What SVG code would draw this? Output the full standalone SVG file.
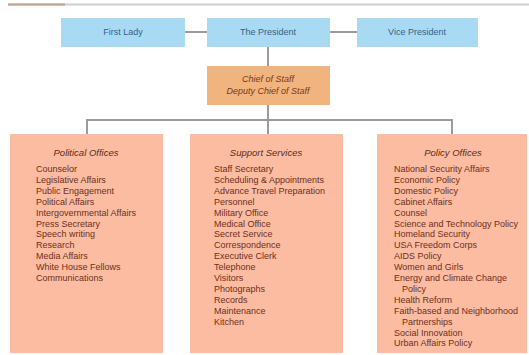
<svg xmlns="http://www.w3.org/2000/svg" width="529" height="355" viewBox="0 0 529 355">
<style>
.blue{fill:#a8daf3}
.chief{fill:#f1b47f}
.unit{fill:#fbbca2}
.bt{font-family:"Liberation Sans",Arial,sans-serif;font-size:9px;fill:#3b5f86;text-anchor:middle}
.ct{font-family:"Liberation Sans",Arial,sans-serif;font-size:9px;font-style:italic;fill:#7a3a14;text-anchor:middle}
.ttl{font-family:"Liberation Sans",Arial,sans-serif;font-size:9.5px;font-style:italic;fill:#5e2a14;text-anchor:middle}
.it{font-family:"Liberation Sans",Arial,sans-serif;font-size:9px;fill:#6e2f1a}
.conn{stroke:#9b9b9b;stroke-width:2;fill:none}
</style>
<rect width="529" height="355" fill="#ffffff"/>
<g id="rule">
<line x1="8" y1="4.5" x2="529" y2="4.5" stroke="#cfcfcf" stroke-width="2"/>
<line x1="8" y1="4.5" x2="65" y2="4.5" stroke="#c4a08f" stroke-width="2"/>
</g>
<g id="connectors">
<line class="conn" x1="185" y1="32" x2="207" y2="32"/>
<line class="conn" x1="330" y1="32" x2="357" y2="32"/>
<line class="conn" x1="268" y1="47" x2="268" y2="66"/>
<line class="conn" x1="268" y1="105" x2="268" y2="134"/>
<polyline class="conn" points="87,134 87,120 452,120 452,134"/>
</g>
<g id="first-lady">
<rect class="blue" x="61" y="18" width="124" height="29"/>
<text class="bt" x="123" y="35">First Lady</text>
</g>
<g id="president">
<rect class="blue" x="207" y="18" width="123" height="29"/>
<text class="bt" x="268" y="35">The President</text>
</g>
<g id="vice-president">
<rect class="blue" x="357" y="18" width="121" height="29"/>
<text class="bt" x="417" y="35">Vice President</text>
</g>
<g id="chief-of-staff">
<rect class="chief" x="207" y="66" width="123" height="39"/>
<text class="ct" x="268" y="82">Chief of Staff</text>
<text class="ct" x="268" y="94">Deputy Chief of Staff</text>
</g>
<g id="political-offices">
<rect class="unit" x="10" y="134" width="153" height="219"/>
<text class="ttl" x="86" y="156">Political Offices</text>
<text class="it" x="36" y="172">Counselor</text>
<text class="it" x="36" y="182.9">Legislative Affairs</text>
<text class="it" x="36" y="193.8">Public Engagement</text>
<text class="it" x="36" y="204.7">Political Affairs</text>
<text class="it" x="36" y="215.6">Intergovernmental Affairs</text>
<text class="it" x="36" y="226.5">Press Secretary</text>
<text class="it" x="36" y="237.4">Speech writing</text>
<text class="it" x="36" y="248.3">Research</text>
<text class="it" x="36" y="259.2">Media Affairs</text>
<text class="it" x="36" y="270.1">White House Fellows</text>
<text class="it" x="36" y="281">Communications</text>
</g>
<g id="support-services">
<rect class="unit" x="190" y="134" width="153" height="219"/>
<text class="ttl" x="266" y="156">Support Services</text>
<text class="it" x="214" y="172">Staff Secretary</text>
<text class="it" x="214" y="182.9">Scheduling &amp; Appointments</text>
<text class="it" x="214" y="193.8">Advance Travel Preparation</text>
<text class="it" x="214" y="204.7">Personnel</text>
<text class="it" x="214" y="215.6">Military Office</text>
<text class="it" x="214" y="226.5">Medical Office</text>
<text class="it" x="214" y="237.4">Secret Service</text>
<text class="it" x="214" y="248.3">Correspondence</text>
<text class="it" x="214" y="259.2">Executive Clerk</text>
<text class="it" x="214" y="270.1">Telephone</text>
<text class="it" x="214" y="281">Visitors</text>
<text class="it" x="214" y="291.9">Photographs</text>
<text class="it" x="214" y="302.8">Records</text>
<text class="it" x="214" y="313.7">Maintenance</text>
<text class="it" x="214" y="324.6">Kitchen</text>
</g>
<g id="policy-offices">
<rect class="unit" x="377" y="134" width="150" height="219"/>
<text class="ttl" x="453" y="156">Policy Offices</text>
<text class="it" x="394" y="172">National Security Affairs</text>
<text class="it" x="394" y="182.9">Economic Policy</text>
<text class="it" x="394" y="193.8">Domestic Policy</text>
<text class="it" x="394" y="204.7">Cabinet Affairs</text>
<text class="it" x="394" y="215.6">Counsel</text>
<text class="it" x="394" y="226.5">Science and Technology Policy</text>
<text class="it" x="394" y="237.4">Homeland Security</text>
<text class="it" x="394" y="248.3">USA Freedom Corps</text>
<text class="it" x="394" y="259.2">AIDS Policy</text>
<text class="it" x="394" y="270.1">Women and Girls</text>
<text class="it" x="394" y="281">Energy and Climate Change</text>
<text class="it" x="402" y="291.9">Policy</text>
<text class="it" x="394" y="302.8">Health Reform</text>
<text class="it" x="394" y="313.7">Faith-based and Neighborhood</text>
<text class="it" x="402" y="324.6">Partnerships</text>
<text class="it" x="394" y="335.5">Social Innovation</text>
<text class="it" x="394" y="346.4">Urban Affairs Policy</text>
</g>
</svg>
